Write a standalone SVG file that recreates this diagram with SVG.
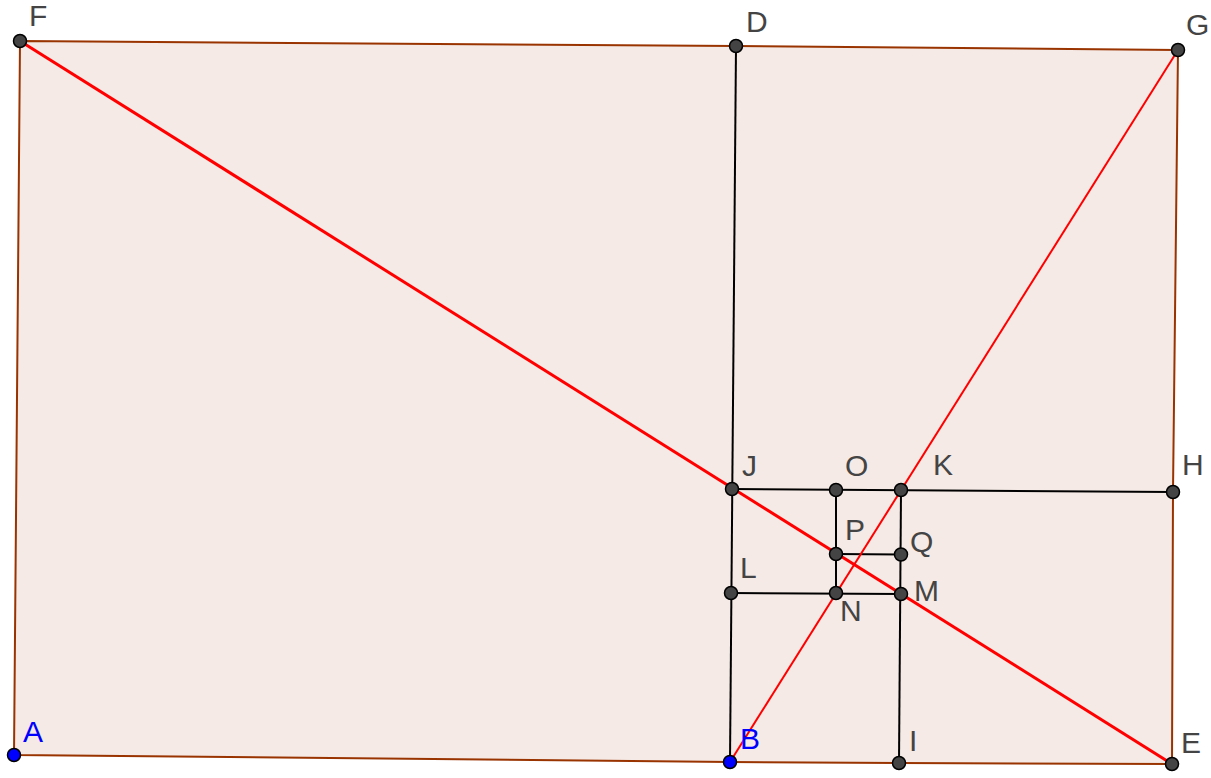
<svg xmlns="http://www.w3.org/2000/svg" width="1211" height="778" viewBox="0 0 1211 778">
<style>
.lbl{font-family:"Liberation Sans",Arial,sans-serif;font-size:30px;fill:#444}
.blue{fill:#0000ff}
.seg{stroke:#000;stroke-width:2;fill:none}
.pt{fill:#444;stroke:#000;stroke-width:1.5}
.ptb{fill:#0000ff;stroke:#000;stroke-width:1.5}
</style>
<rect width="1211" height="778" fill="#fff"/>
<g id="poly">
<polygon points="14,755 20,41 736,46 1178,50 1173,492 1172,764 899,763 730,762" fill="#993300" fill-opacity="0.1" stroke="#993300" stroke-width="2" stroke-linejoin="round"/>
</g>
<g id="connectors">
<line class="seg" x1="736" y1="46" x2="730" y2="762"/>
<line class="seg" x1="732" y1="489" x2="1173" y2="492"/>
<line class="seg" x1="836" y1="490" x2="836" y2="593"/>
<line class="seg" x1="901" y1="490" x2="899" y2="763"/>
<line class="seg" x1="836" y1="554" x2="901" y2="554.5"/>
<line class="seg" x1="731" y1="593" x2="901" y2="594"/>
<line x1="20" y1="41" x2="1172" y2="764" stroke="#ff0000" stroke-width="3"/>
<line x1="730" y1="762" x2="1178" y2="50" stroke="#ff0000" stroke-width="2"/>
</g>
<g id="F"><circle class="pt" cx="20" cy="41" r="6.5"/><text class="lbl" x="29" y="26">F</text></g>
<g id="D"><circle class="pt" cx="736" cy="46" r="6.5"/><text class="lbl" x="746" y="32">D</text></g>
<g id="G"><circle class="pt" cx="1178" cy="50" r="6.5"/><text class="lbl" x="1186" y="35">G</text></g>
<g id="A"><circle class="ptb" cx="14" cy="755" r="6.5"/><text class="lbl blue" x="23" y="742">A</text></g>
<g id="B"><circle class="ptb" cx="730" cy="762" r="6.5"/><text class="lbl blue" x="740" y="749">B</text></g>
<g id="I"><circle class="pt" cx="899" cy="763" r="6.5"/><text class="lbl" x="909" y="751">I</text></g>
<g id="E"><circle class="pt" cx="1172" cy="764" r="6.5"/><text class="lbl" x="1181" y="753">E</text></g>
<g id="H"><circle class="pt" cx="1173" cy="492" r="6.5"/><text class="lbl" x="1182" y="475">H</text></g>
<g id="J"><circle class="pt" cx="732" cy="489" r="6.5"/><text class="lbl" x="742" y="476">J</text></g>
<g id="O"><circle class="pt" cx="836" cy="490" r="6.5"/><text class="lbl" x="845" y="476">O</text></g>
<g id="K"><circle class="pt" cx="901" cy="490" r="6.5"/><text class="lbl" x="933" y="475">K</text></g>
<g id="P"><circle class="pt" cx="836" cy="554" r="6.5"/><text class="lbl" x="845" y="540">P</text></g>
<g id="Q"><circle class="pt" cx="901" cy="554.5" r="6.5"/><text class="lbl" x="910" y="552">Q</text></g>
<g id="L"><circle class="pt" cx="731" cy="593" r="6.5"/><text class="lbl" x="740" y="578">L</text></g>
<g id="N"><circle class="pt" cx="836" cy="593" r="6.5"/><text class="lbl" x="840" y="621">N</text></g>
<g id="M"><circle class="pt" cx="901" cy="594" r="6.5"/><text class="lbl" x="914" y="601">M</text></g>
</svg>
